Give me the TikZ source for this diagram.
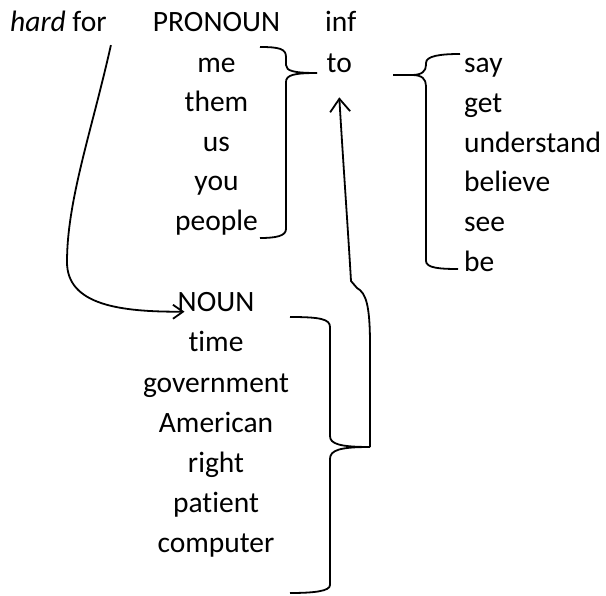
\documentclass[tikz,border=0pt]{standalone}
\usepackage{fontspec}
\setmainfont{Carlito}[Ligatures=NoCommon]
\usetikzlibrary{arrows.meta}

\tikzset{
    word/.style={inner sep=0pt, anchor=base},
    lword/.style={inner sep=0pt, anchor=base west},
    brace/.style={line width=1.8pt, line join=round},
}

\begin{document}
\begin{tikzpicture}[x=1pt, y=-1pt, font=\fontsize{29.5}{35}\selectfont]
    \useasboundingbox (0,0) rectangle (606,596);

    % Kopfzeile
    \node[lword] (hard) at (10,31.7) {\textit{hard} for};
    \node[word] (pron) at (216.5,31.7) {PRONOUN};
    \node[lword] (inf) at (325,31.7) {inf};
    \node[lword] (to) at (326.5,72.3) {to};

    % Pronomen
    \foreach \w [count=\i] in {me,them,us,you,people}
        \node[word] (pro\i) at (216.5,{72.3+39.5*(\i-1)}) {\w};

    % Verben
    \foreach \w [count=\i] in {say,get,understand,believe,see,be}
        \node[lword] (verb\i) at (464,{72.3+39.9*(\i-1)}) {\w};

    % Nomen
    \node[word] (noun) at (216,311.7) {NOUN};
    \foreach \w [count=\i] in {time,government,American,right,patient,computer}
        \node[word] (nn\i) at (216,{311.7+40.2*\i}) {\w};

    % Klammer um die Pronomen
    \draw[brace] (260,47) .. controls (280,47) and (286,49) .. (286,57) -- (286,65)
        .. controls (286,71) and (294,73) .. (317,73);
    \draw[brace] (317,73) .. controls (294,73) and (286,75) .. (286,82) -- (286,229)
        .. controls (286,236) and (276,238) .. (260,238);

    % Klammer um die Verben
    \draw[brace] (393,75) -- (412,75) .. controls (422,75) and (426,71) .. (426,65) -- (426,63)
        .. controls (426,56) and (440,54) .. (460,54);
    \draw[brace] (412,75) .. controls (422,75) and (426,79) .. (426,86) -- (426,261)
        .. controls (426,268) and (440,269) .. (458,269);

    % Klammer um die Nomen
    \draw[brace] (290,317) .. controls (320,317) and (330,319) .. (330,327) -- (330,436)
        .. controls (330,444) and (340,447) .. (370,447) coordinate (ntip);
    \draw[brace] (ntip) .. controls (340,447) and (330,450) .. (330,459) -- (330,585)
        .. controls (330,591) and (315,593) .. (290,593);

    % Pfeile
    \coordinate (toin) at ([yshift=-25pt]to.base);
    \draw[brace, -{Straight Barb[length=13pt, width=20pt]}] (ntip) -- (370,345)
        .. controls (370,305) and (366,293) .. (357,288) -- (351,281)
        .. controls (348,230) and (343,160) .. (toin);
    \draw[brace, -{Straight Barb[length=10pt, width=14pt]}]
        ([shift={(4,13)}]hard.south east) .. controls (92,130) and (67,200) .. (67,262)
        .. controls (67,305) and (120,312) .. ([xshift=7pt]noun.base west);
\end{tikzpicture}
\end{document}
